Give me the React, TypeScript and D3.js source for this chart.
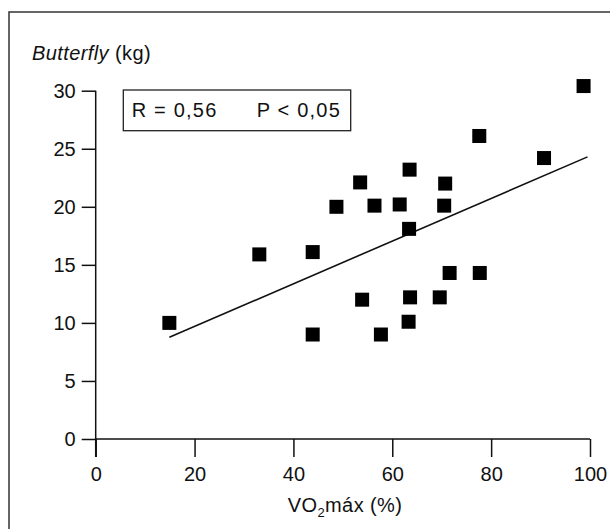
import React, { useEffect, useRef } from 'react';
import * as d3 from 'd3';

// values
const vo2 = [14.9, 33.1, 43.9, 43.9, 48.7, 53.5, 53.9, 56.4, 57.7, 61.5, 63.5, 63.4, 63.6, 63.3, 69.6, 70.5, 70.7, 71.6, 77.6, 77.7, 90.7, 98.7];
const butterfly = [10.0, 15.9, 16.1, 9.0, 20.0, 22.1, 12.0, 20.1, 9.0, 20.2, 23.2, 18.1, 12.2, 10.1, 12.2, 20.1, 22.0, 14.3, 26.1, 14.3, 24.2, 30.4];
const fitX = [14.9, 99.5];
const fitY = [8.76, 24.3];
const xTicks = [0, 20, 40, 60, 80, 100];
const yTicks = [0, 5, 10, 15, 20, 25, 30];
const statR = 'R = 0,56';
const statP = 'P < 0,05';

const FONT = '"Liberation Sans", Arial, Helvetica, sans-serif';
const INK = '#111';

const App = () => {
    const svgRef = useRef<SVGSVGElement>(null);

    useEffect(() => {
        const svg = d3.select(svgRef.current);
        svg.selectAll('*').remove();

        const x = d3.scaleLinear().domain([0, 100]).range([95.7, 590]);
        const y = d3.scaleLinear().domain([0, 30]).range([439, 90.7]);

        // outer frame (cut by the picture edge on the right and bottom)
        svg.append('rect')
            .attr('x', 9).attr('y', 12)
            .attr('width', 640).attr('height', 560)
            .attr('fill', 'none')
            .attr('stroke', '#333')
            .attr('stroke-width', 1.5);

        // y axis
        const yAxis = d3.axisLeft(y).tickValues(yTicks).tickSize(14).tickSizeOuter(0).tickPadding(6);
        const gy = svg.append('g')
            .attr('transform', `translate(${x(0)},0)`)
            .call(yAxis);
        gy.select('.domain').remove();

        // x axis
        const xAxis = d3.axisBottom(x).tickValues(xTicks).tickSize(18).tickSizeOuter(0).tickPadding(10);
        const gx = svg.append('g')
            .attr('transform', `translate(0,${y(0)})`)
            .call(xAxis);
        gx.select('.domain').remove();

        [gx, gy].forEach((g) => {
            g.attr('font-family', FONT).attr('font-size', 20);
            g.selectAll('line').attr('stroke', INK).attr('stroke-width', 1.5);
            g.selectAll('text').attr('fill', INK);
        });

        // axis lines
        svg.append('line')
            .attr('x1', x(0)).attr('x2', x(0))
            .attr('y1', y(30)).attr('y2', y(0) + 18)
            .attr('stroke', INK).attr('stroke-width', 1.5);
        svg.append('line')
            .attr('x1', x(0)).attr('x2', x(100))
            .attr('y1', y(0)).attr('y2', y(0))
            .attr('stroke', INK).attr('stroke-width', 1.5);

        // axis titles
        const yTitle = svg.append('text')
            .attr('x', 32).attr('y', 59.5)
            .attr('font-family', FONT).attr('font-size', 20)
            .attr('letter-spacing', 0.4)
            .attr('fill', INK);
        yTitle.append('tspan').attr('font-style', 'italic').text('Butterfly');
        yTitle.append('tspan').text(' (kg)');

        const xTitle = svg.append('text')
            .attr('x', 345).attr('y', 512)
            .attr('text-anchor', 'middle')
            .attr('font-family', FONT).attr('font-size', 20)
            .attr('letter-spacing', 0.4)
            .attr('fill', INK);
        xTitle.append('tspan').text('VO');
        xTitle.append('tspan').attr('font-size', 13).attr('dy', 5).text('2');
        xTitle.append('tspan').attr('dy', -5).text('máx (%)');

        // stats box
        svg.append('rect')
            .attr('x', 123.3).attr('y', 90)
            .attr('width', 227.4).attr('height', 40.7)
            .attr('fill', 'none')
            .attr('stroke', '#222')
            .attr('stroke-width', 1.3);
        svg.append('text')
            .attr('x', 131.7).attr('y', 116.7)
            .attr('font-family', FONT).attr('font-size', 20).attr('fill', INK)
            .attr('letter-spacing', 1.2)
            .text(statR);
        svg.append('text')
            .attr('x', 256.7).attr('y', 116.7)
            .attr('font-family', FONT).attr('font-size', 20).attr('fill', INK)
            .attr('letter-spacing', 1.2)
            .text(statP);

        // regression line
        const line = d3.line<number>()
            .x((d) => x(d))
            .y((d, i) => y(fitY[i]));
        svg.append('path')
            .attr('d', line(fitX))
            .attr('fill', 'none')
            .attr('stroke', INK)
            .attr('stroke-width', 1.6);

        // points
        const size = 14;
        svg.selectAll('.pt')
            .data(vo2.map((v, i) => ({ v, kg: butterfly[i] })))
            .enter()
            .append('rect')
            .attr('class', 'pt')
            .attr('x', (d) => x(d.v) - size / 2)
            .attr('y', (d) => y(d.kg) - size / 2)
            .attr('width', size)
            .attr('height', size)
            .attr('fill', '#000');
    }, []);

    return (
        <svg ref={svgRef} width={610} height={529}
             style={{ position: 'absolute', left: 0, top: 0, background: '#fff' }}></svg>
    );
};

export default App;
